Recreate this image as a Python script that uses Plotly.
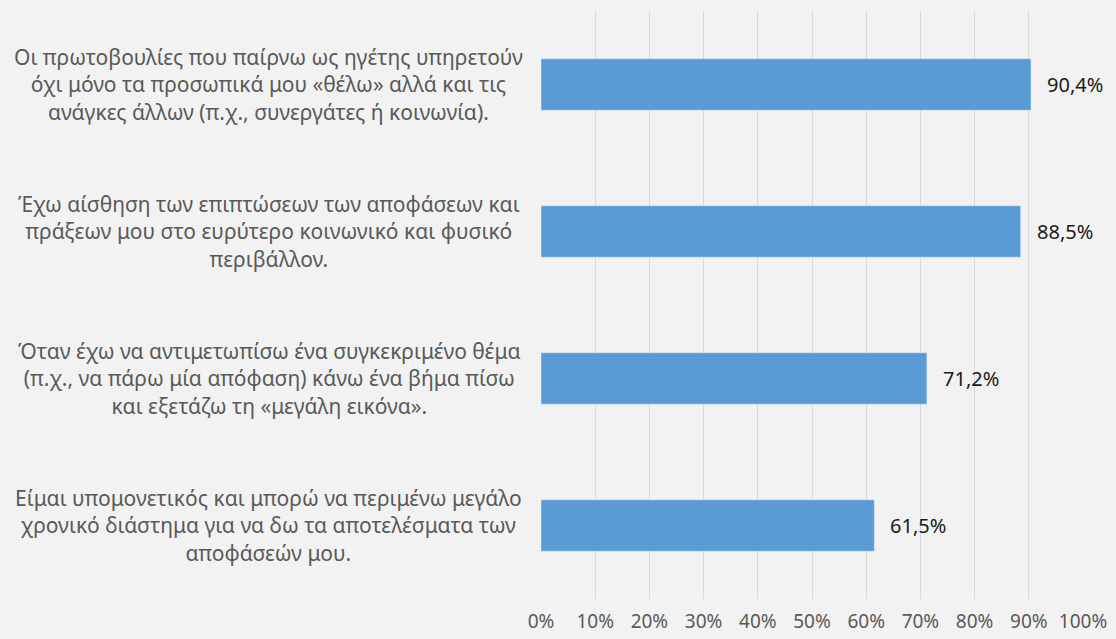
import plotly.graph_objects as go

statements = [
    "Οι πρωτοβουλίες που παίρνω ως ηγέτης υπηρετούν<br>όχι μόνο τα προσωπικά μου «θέλω» αλλά και τις<br>ανάγκες άλλων (π.χ., συνεργάτες ή κοινωνία).",
    "Έχω αίσθηση των επιπτώσεων των αποφάσεων και<br>πράξεων μου στο ευρύτερο κοινωνικό και φυσικό<br>περιβάλλον.",
    "Όταν έχω να αντιμετωπίσω ένα συγκεκριμένο θέμα<br>(π.χ., να πάρω μία απόφαση) κάνω ένα βήμα πίσω<br>και εξετάζω τη «μεγάλη εικόνα».",
    "Είμαι υπομονετικός και μπορώ να περιμένω μεγάλο<br>χρονικό διάστημα για να δω τα αποτελέσματα των<br>αποφάσεών μου.",
]
shares = [0.904, 0.885, 0.712, 0.615]
keys = ["q1", "q2", "q3", "q4"]

FONT = "Noto Sans"

fig = go.Figure()
fig.add_trace(go.Bar(
    x=shares, y=keys, orientation="h",
    marker_color="#5B9BD5", width=0.35,
    hoverinfo="skip",
))

# data labels, pushed a bit away from the bar ends
for k, v in zip(keys, shares):
    fig.add_annotation(x=v, y=k, text=f"{v * 100:.1f}%".replace(".", ","),
                       showarrow=False, xanchor="left", xshift=14,
                       font=dict(family=FONT, size=20, color="#1a1a1a"))

for k, s in zip(keys, statements):
    fig.add_annotation(x=-0.502, xref="paper", y=k, yref="y", text=s,
                       showarrow=False, xanchor="center", align="center",
                       font=dict(family=FONT, size=21, color="#595959"))

fig.update_layout(
    width=1116, height=639,
    margin=dict(l=541, r=33, t=11, b=40),
    paper_bgcolor="#F2F2F2", plot_bgcolor="#F2F2F2",
    showlegend=False,
    xaxis=dict(range=[0, 1], dtick=0.1, tickformat=".0%",
               showgrid=True, gridcolor="#D9D9D9", gridwidth=1,
               zeroline=False, showline=False, ticks="",
               automargin=False, ticklabelstandoff=9,
               tickfont=dict(family=FONT, size=19, color="#595959")),
    yaxis=dict(categoryorder="array", categoryarray=keys[::-1],
               showticklabels=False, showgrid=False, zeroline=False,
               automargin=False),
)

fig.write_html("out.html", config={"displayModeBar": False},
               post_script="document.body.style.margin='0';"
                           "document.body.style.background='#F2F2F2';")
